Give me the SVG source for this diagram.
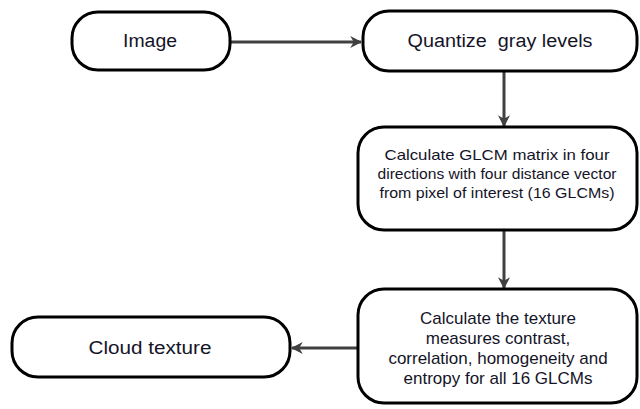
<svg xmlns="http://www.w3.org/2000/svg" width="640" height="409" viewBox="0 0 640 409">
<style>
.box{fill:#fff;stroke:#000;stroke-width:3}
.t{font-family:"Liberation Sans",Arial,sans-serif;fill:#141428;text-anchor:middle}
.big{font-size:18px}
.mid{font-size:17px}
.sm{font-size:15px}
.conn{stroke:#404040;stroke-width:3;fill:none;marker-end:url(#ah)}
</style>
<defs>
<marker id="ah" viewBox="0 0 10 10" refX="9" refY="5" markerWidth="4" markerHeight="4" orient="auto" markerUnits="strokeWidth">
<path d="M0,0 L10,5 L0,10 L3,5 Z" fill="#404040"/>
</marker>
</defs>
<rect width="640" height="409" fill="#fff"/>
<g id="connectors">
<line class="conn" x1="231" y1="42" x2="361" y2="42"/>
<line class="conn" x1="504" y1="71" x2="504" y2="126"/>
<line class="conn" x1="504" y1="231" x2="504" y2="288"/>
<line class="conn" x1="357" y1="348" x2="292" y2="348"/>
</g>
<g id="image">
<rect class="box" x="72" y="12" width="158" height="58" rx="26"/>
<text class="t big" x="150" y="47" textLength="54" lengthAdjust="spacingAndGlyphs">Image</text>
</g>
<g id="quantize">
<rect class="box" x="363" y="11" width="274" height="60" rx="26"/>
<text class="t big" x="500" y="47" textLength="185" lengthAdjust="spacingAndGlyphs" xml:space="preserve">Quantize  gray levels</text>
</g>
<g id="glcm">
<rect class="box" x="358" y="127" width="279" height="103" rx="26"/>
<text class="t sm" x="497" y="160" textLength="225" lengthAdjust="spacingAndGlyphs">Calculate GLCM matrix in four</text>
<text class="t sm" x="497" y="179" textLength="239" lengthAdjust="spacingAndGlyphs">directions with four distance vector</text>
<text class="t sm" x="497" y="198" textLength="235" lengthAdjust="spacingAndGlyphs">from pixel of interest (16 GLCMs)</text>
</g>
<g id="texture">
<rect class="box" x="358" y="289" width="279" height="114" rx="26"/>
<text class="t mid" x="498" y="324">Calculate the texture</text>
<text class="t mid" x="498" y="344">measures contrast,</text>
<text class="t mid" x="498" y="364">correlation, homogeneity and</text>
<text class="t mid" x="498" y="384">entropy for all 16 GLCMs</text>
</g>
<g id="cloud">
<rect class="box" x="12" y="317" width="278" height="60" rx="26"/>
<text class="t big" x="150" y="354" textLength="123" lengthAdjust="spacingAndGlyphs">Cloud texture</text>
</g>
</svg>
